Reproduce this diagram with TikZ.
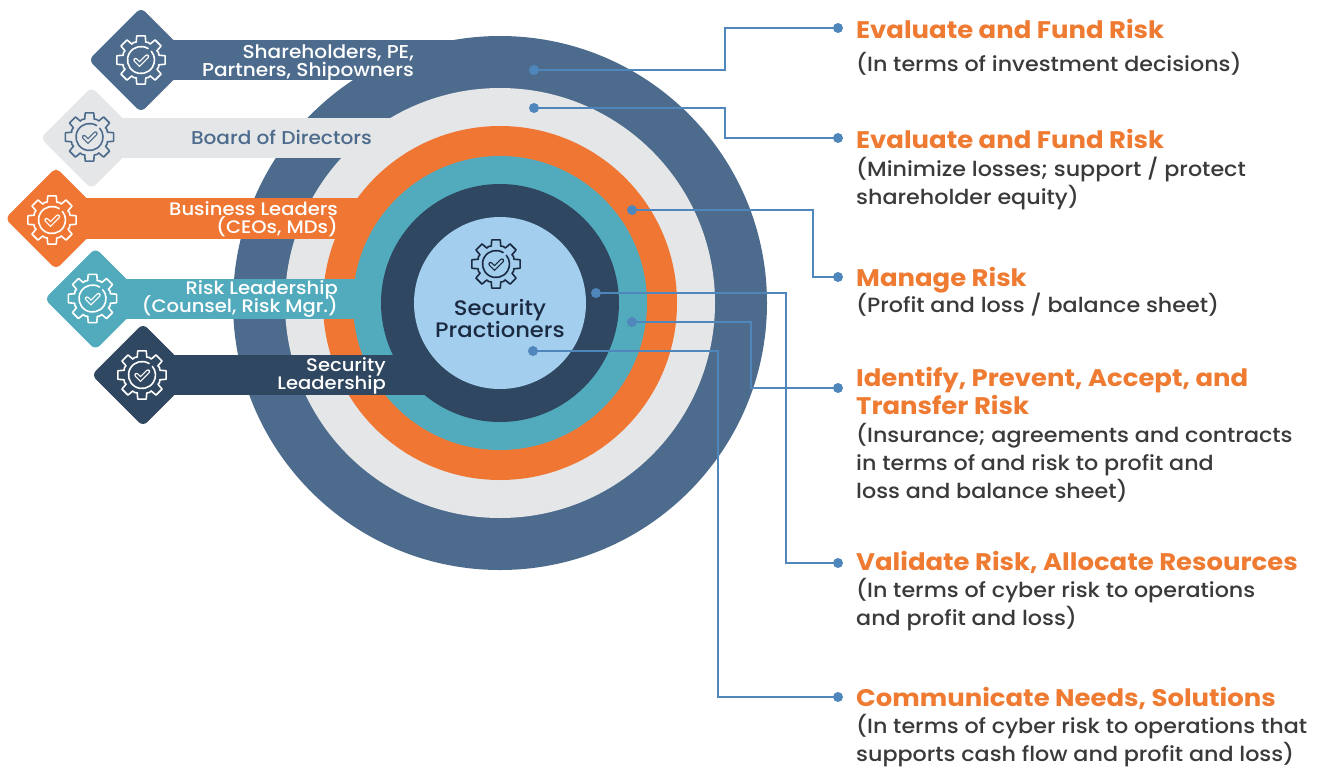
\documentclass[tikz,border=0pt]{standalone}
\usepackage{fontspec}
\setmainfont[FakeStretch=1.08]{Poppins Medium}
\newfontfamily\headfont[FakeStretch=1.08]{Poppins Bold}
\usetikzlibrary{shapes.geometric}
\newcommand\tightlines{\setlength{\lineskiplimit}{-100pt}}
\definecolor{cOuter}{HTML}{4D6B8C}
\definecolor{cGray}{HTML}{E5E6E8}
\definecolor{cOrange}{HTML}{F07733}
\definecolor{cTeal}{HTML}{52ABBC}
\definecolor{cDark}{HTML}{2F4760}
\definecolor{cLight}{HTML}{A3CEEE}
\definecolor{cLine}{HTML}{4F86BB}
\definecolor{cTitle}{HTML}{EE7B31}
\definecolor{cBody}{HTML}{3A3A3C}
\definecolor{cNavy}{HTML}{1B2A41}
\tikzset{
  ring/.style={circle,inner sep=0pt,minimum size=#1,draw=none},
  tip/.style={diamond,aspect=1,inner sep=0pt,rounded corners=6pt,minimum size=#1,draw=none},
  bar/.style={inner sep=0pt,draw=none,anchor=west,minimum height=40.5pt,minimum width=#1},
  bannertext/.style={inner sep=0pt,anchor=base east,align=right,text=white,font=\fontsize{18.6}{18}\selectfont\tightlines},
  smallbanner/.style={bannertext,font=\fontsize{18.1}{18}\selectfont\tightlines},
  dot/.style={circle,fill=cLine,inner sep=0pt,minimum size=10pt},
  link/.style={draw=cLine,line width=1.8pt,line join=miter},
  title/.style={inner sep=0pt,anchor=base west,text=cTitle,font=\fontsize{24}{28}\selectfont\headfont\tightlines},
  body/.style={inner sep=0pt,anchor=north west,align=left,text=cBody,font=\fontsize{20.6}{28}\selectfont\tightlines},
  pics/gear/.style 2 args={code={
    \begin{scope}[x=1pt,y=1pt,draw=#1,line width=1.6pt,line join=round,line cap=round]
      \foreach \a in {0,45,...,315}{
        \draw (\a-15:18.5) -- (\a-10:24.5) -- (\a+10:24.5) -- (\a+15:18.5) -- (\a+22.5:19) -- (\a+30:18.5);
      }
      \draw (58:13.5) arc (58:400:13.5);
      \draw[line width=4.4pt,line cap=round,line join=miter] (-5.5,0) -- (-1.5,-4) -- (6,3.5);
      \draw[#2,line width=2pt,line cap=round,line join=miter] (-5.5,0) -- (-1.5,-4) -- (6,3.5);
    \end{scope}
  }},
}
\begin{document}
\begin{tikzpicture}[x=1pt,y=-1pt]
\useasboundingbox (0,0) rectangle (1326,769);
% rings and banners, outermost first
\node[ring=534pt,fill=cOuter] (r1) at (500,303) {};
\node[tip=105pt,fill=cOuter] (t1) at (141,60) {};
\node[bar=320pt,fill=cOuter] (b1) at (150,60) {};
\node[ring=430pt,fill=cGray] (r2) at (500,303) {};
\node[tip=102pt,fill=cGray] (t2) at (91.5,138) {};
\node[bar=320pt,fill=cGray] (b2) at (100,138) {};
\node[ring=354pt,fill=cOrange] (r3) at (500,303) {};
\node[tip=102pt,fill=cOrange] (t3) at (56,218.5) {};
\node[bar=360pt,fill=cOrange] (b3) at (60,218.5) {};
\node[ring=294pt,fill=cTeal] (r4) at (500,303) {};
\node[tip=102pt,fill=cTeal] (t4) at (95.5,299) {};
\node[bar=310pt,fill=cTeal] (b4) at (100,299) {};
\node[ring=238pt,fill=cDark] (r5) at (500,303) {};
\node[tip=103pt,fill=cDark] (t5) at (143,375) {};
\node[bar=310pt,fill=cDark] (b5) at (150,375) {};
\node[ring=172pt,fill=cLight] (r6) at (500,303) {};
% icons
\pic at (141,60) {gear={white}{cOuter}};
\pic at (89.5,137) {gear={cOuter}{cGray}};
\pic at (52,220) {gear={white}{cOrange}};
\pic at (92.5,298.5) {gear={white}{cTeal}};
\pic at (142,375) {gear={white}{cDark}};
\pic at (496,264) {gear={cNavy}{cLight}};
% banner labels
\node[bannertext] (l1) at (414,76) {Shareholders, PE,\\Partners, Shipowners};
\node[bannertext,text=cOuter] (l2) at (372,144) {Board of Directors};
\node[smallbanner] (l3) at (338,233) {Business Leaders\\(CEOs, MDs)};
\node[smallbanner] (l4) at (338,312) {Risk Leadership\\(Counsel, Risk Mgr.)};
\node[smallbanner] (l5) at (386,389) {Security\\Leadership};
\node[inner sep=0pt,anchor=base,align=center,text=cNavy,font=\fontsize{21}{22}\selectfont\tightlines] (l6) at (500,337) {Security\\Practioners};
% dots
\node[dot] (s1) at (534,70) {};
\node[dot] (s2) at (534,108) {};
\node[dot] (s3) at (632,210) {};
\node[dot] (s4) at (632,322) {};
\node[dot] (s5) at (596,293) {};
\node[dot] (s6) at (533,351) {};
\node[dot] (e1) at (838,28) {};
\node[dot] (e2) at (838,138) {};
\node[dot] (e3) at (838,277) {};
\node[dot] (e4) at (838,388) {};
\node[dot] (e5) at (838,563) {};
\node[dot] (e6) at (838,697) {};
\coordinate (k1) at (725,0);
\coordinate (k2) at (725,0);
\coordinate (k3) at (813,0);
\coordinate (k4) at (751,0);
\coordinate (k5) at (786,0);
\coordinate (k6) at (718,0);
\foreach \i in {1,...,6}{
  \draw[link] (s\i.center) -- (s\i.center -| k\i) -- (e\i.center -| k\i) -- (e\i.center);
}
% right-hand texts
\node[title] (h1) at (856,38) {Evaluate and Fund Risk};
\node[body] (d1) at (856,52) {(In terms of investment decisions)};
\node[title] (h2) at (856,148) {Evaluate and Fund Risk};
\node[body] (d2) at (856,157) {(Minimize losses; support / protect\\shareholder equity)};
\node[title] (h3) at (856,286) {Manage Risk};
\node[body] (d3) at (856,293) {(Profit and loss / balance sheet)};
\node[title,align=left,anchor=north west] (h4) at (856,367) {Identify, Prevent, Accept, and\\Transfer Risk};
\node[body] (d4) at (856,423) {(Insurance; agreements and contracts\\in terms of and risk to profit and\\loss and balance sheet)};
\node[title] (h5) at (856,570) {Validate Risk, Allocate Resources};
\node[body] (d5) at (856,578) {(In terms of cyber risk to operations\\and profit and loss)};
\node[title] (h6) at (856,706) {Communicate Needs, Solutions};
\node[body] (d6) at (856,714) {(In terms of cyber risk to operations that\\supports cash flow and profit and loss)};
\end{tikzpicture}
\end{document}
